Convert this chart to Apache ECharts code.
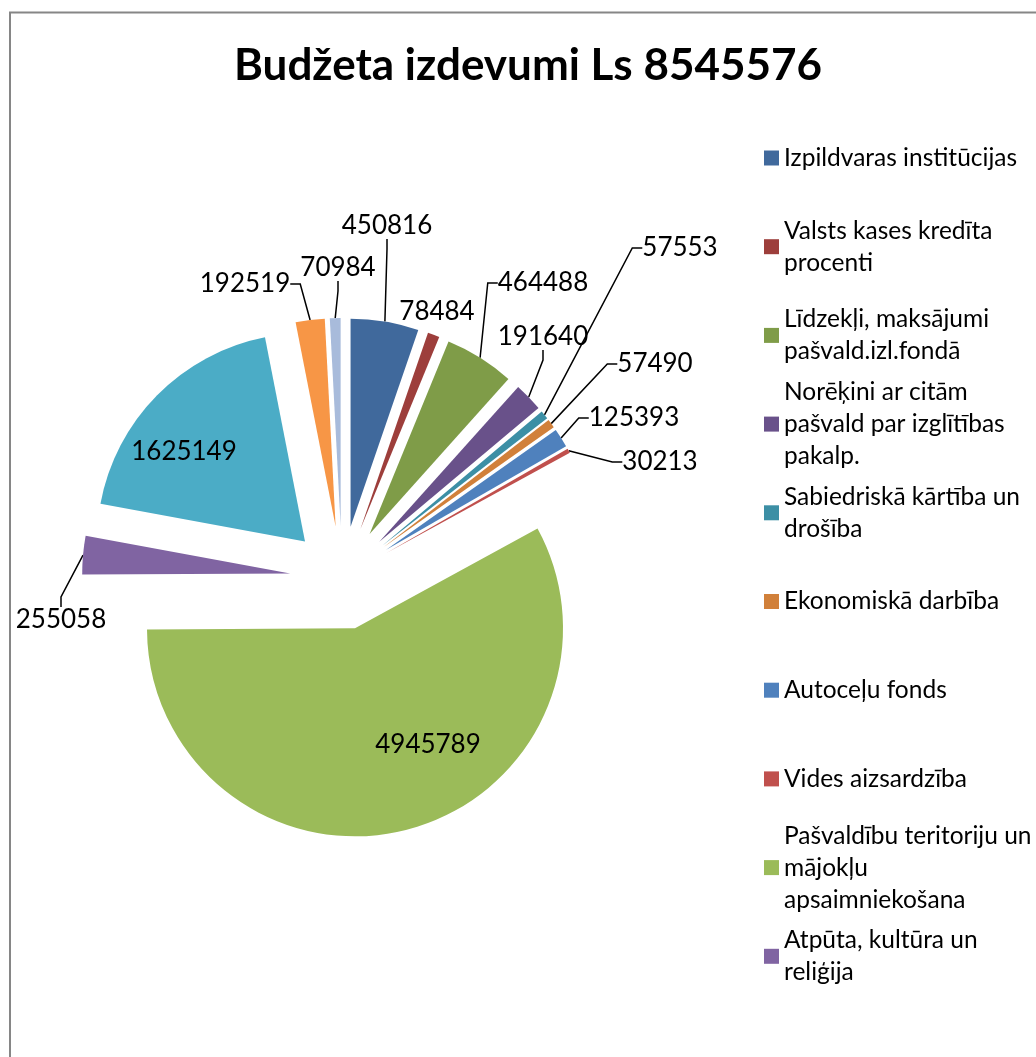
<!DOCTYPE html>
<html>
<head>
<meta charset="utf-8">
<title>Budžeta izdevumi</title>
<script src="https://cdn.jsdelivr.net/npm/echarts@6/dist/echarts.min.js"></script>
<style>
  html, body { margin: 0; padding: 0; background: #fff; }
  #chart { width: 1036px; height: 1057px; }
</style>
</head>
<body>
<div id="chart"></div>
<script>
// izdevumu pozīcijas, pulksteņrādītāja virzienā no plkst. 12
const names = [
  'Izpildvaras institūcijas',
  'Valsts kases kredīta procenti',
  'Līdzekļi, maksājumi pašvald.izl.fondā',
  'Norēķini ar citām pašvald par izglītības pakalp.',
  'Sabiedriskā kārtība un drošība',
  'Ekonomiskā darbība',
  'Autoceļu fonds',
  'Vides aizsardzība',
  'Pašvaldību teritoriju un mājokļu apsaimniekošana',
  'Atpūta, kultūra un reliģija',
  'Izglītība',
  'Sociālā aizsardzība',
  'Veselība'
]
const values = [450816, 78484, 464488, 191640, 57553, 57490, 125393, 30213, 4945789, 255058, 1625149, 192519, 70984]
const colors = [
  '#40699c', '#9d3e3b', '#7f9c48', '#69518a', '#3c8fa5', '#d1803a', '#4f81bd',
  '#c0504d', '#9bbb59', '#8064a2', '#4bacc6', '#f79646', '#a8bbdb'
]

// leģendā redzamas tikai pirmās 10 pozīcijas (ar rindu pārnesumiem kā oriģinālā)
const legendText = [
  'Izpildvaras institūcijas',
  'Valsts kases kredīta\nprocenti',
  'Līdzekļi, maksājumi\npašvald.izl.fondā',
  'Norēķini ar citām\npašvald par izglītības\npakalp.',
  'Sabiedriskā kārtība un\ndrošība',
  'Ekonomiskā darbība',
  'Autoceļu fonds',
  'Vides aizsardzība',
  'Pašvaldību teritoriju un\nmājokļu\napsaimniekošana',
  'Atpūta, kultūra un\nreliģija'
]
// datu etiķešu centri (px)
const labelSpots = [
  [387, 226], [437, 312], [543, 283], [543, 337], [680, 248], [655, 364], [634, 418],
  [660, 462], [428, 745], [61, 620], [184, 452], [245, 284], [338, 268]
]
// etiķetes bez vadlīnijas
const noLeader = [1, 8, 10]

const FONT = 'Lato, "Noto Sans", sans-serif'
const pieCenter = [342, 578]
const pieRadius = 208
const explode = 52

const total = values.reduce((a, b) => a + b, 0)

/**
 * katrs sektors ir atsevišķa sērija ar nobīdītu centru (izvilkts sektors)
 */
const pad = { itemStyle: { color: 'transparent' }, label: { show: false }, labelLine: { show: false } }
let acc = 0
const sliceSeries = values.map((v, i) => {
  const before = acc
  acc += v
  const mid = (before + v / 2) / total * Math.PI * 2
  return {
    type: 'pie',
    center: [pieCenter[0] + explode * Math.sin(mid), pieCenter[1] - explode * Math.cos(mid)],
    radius: pieRadius,
    startAngle: 90,
    clockwise: true,
    silent: true,
    avoidLabelOverlap: false,
    emphasis: { disabled: true },
    itemStyle: { borderWidth: 0 },
    label: {
      show: true,
      position: 'outside',
      formatter: '{c}',
      fontFamily: FONT,
      fontSize: 26,
      color: '#000'
    },
    labelLine: {
      show: true,
      length: 10,
      length2: 10,
      lineStyle: { color: '#000', width: 1.5 }
    },
    labelLayout: (p) => p.dataIndex === 1 ? {
      x: labelSpots[i][0],
      y: labelSpots[i][1],
      align: 'center',
      verticalAlign: 'middle'
    } : {},
    data: [
      { value: before, name: 'pad-a', ...pad },
      {
        value: v,
        name: names[i],
        itemStyle: { color: colors[i] },
        labelLine: { show: noLeader.indexOf(i) < 0 }
      },
      { value: total - before - v, name: 'pad-b', ...pad }
    ]
  }
})

// leģenda: katram ierakstam savs bloks, ikona pie pirmās rindas
const legendFirst = 158
const legendStep = 88.7
const lineH = 32
const legends = legendText.map((text, i) => {
  const lines = text.split('\n').length
  return {
    orient: 'vertical',
    left: 764,
    top: legendFirst + i * legendStep - (2 * lines - 1) * lineH / 2,
    padding: 0,
    itemWidth: 15,
    itemHeight: 15,
    icon: 'rect',
    selectedMode: false,
    data: [names[i]],
    formatter: () => text,
    textStyle: {
      fontFamily: FONT,
      fontSize: 24.5,
      color: '#000',
      lineHeight: lineH,
      padding: [(lines - 1) * lineH, 0, 0, 0]
    }
  }
})

const chart = echarts.init(document.getElementById('chart'))

chart.setOption({
  animation: false,
  title: {
    text: 'Budžeta izdevumi Ls 8545576',
    left: 234,
    top: 44,
    padding: 0,
    textStyle: { fontFamily: FONT, fontSize: 44, fontWeight: 'bold', color: '#000' }
  },
  graphic: [
    {
      type: 'rect',
      shape: { x: 10, y: 12.5, width: 1200, height: 1200 },
      style: { fill: 'none', stroke: '#868686', lineWidth: 2 },
      silent: true
    }
  ],
  legend: legends,
  series: sliceSeries
})

window.addEventListener('resize', () => chart.resize())
</script>
</body>
</html>
